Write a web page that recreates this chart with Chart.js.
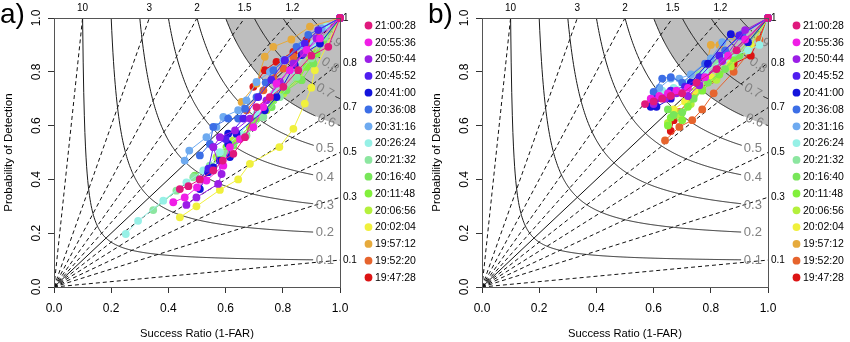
<!DOCTYPE html>
<html>
<head>
<meta charset="utf-8">
<script src="https://cdn.jsdelivr.net/npm/chart.js@4.4.1/dist/chart.umd.min.js"></script>
<style>
  body { margin: 0; background: #fff; width: 850px; height: 342px; overflow: hidden; position: relative; }
  .panel { position: absolute; top: 0; }
</style>
</head>
<body>
<div class="panel" style="left:0"><canvas id="chartA" width="422" height="342"></canvas></div>
<div class="panel" style="left:428px"><canvas id="chartB" width="422" height="342"></canvas></div>
<script>
// legend entries (forecast start times) and their colours
const times = ['21:00:28', '20:55:36', '20:50:44', '20:45:52', '20:41:00', '20:36:08', '20:31:16', '20:26:24',
               '20:21:32', '20:16:40', '20:11:48', '20:06:56', '20:02:04', '19:57:12', '19:52:20', '19:47:28'];
const colors = ['#e0197d', '#f01ee6', '#9b1ee6', '#501ef0', '#1414dc', '#3c6ee6', '#6eaaf0', '#96f0e6',
                '#8ce6a0', '#78e65a', '#82f03c', '#b4f03c', '#f0f03c', '#e6aa3c', '#e6642d', '#dc1414'];

// background of the performance diagram
const xTicks = [0, 0.2, 0.4, 0.6, 0.8, 1.0];
const csiLevels = [0.1, 0.2, 0.3, 0.4, 0.5, 0.6, 0.7, 0.8, 0.9];
const csiLabelSR = [0.947, 0.947, 0.947, 0.947, 0.947, 0.953, 0.947, 0.965, 0.976];
const shadeCSI = 0.6;
const biasLevels = [10, 3, 2, 1.5, 1.2, 1, 5 / 6, 2 / 3, 0.5, 1 / 3, 0.1];
const topBias = [10, 3, 2, 1.5, 1.2];
const topLabels = ['10', '3', '2', '1.5', '1.2'];
const rightBias = [1, 5 / 6, 2 / 3, 0.5, 1 / 3, 0.1];
const rightLabels = ['1', '0.8', '0.7', '0.5', '0.3', '0.1'];

// panel a) : [success ratio, POD]
const a_210028 = [[.44,.364],[.47,.375],[.51,.40],[.557,.433],[.59,.47],[.627,.495],[.668,.557],[.708,.669],[.755,.706],[.802,.744],[.854,.806],[.90,.86],[.959,.893],[1,1]];
const a_205536 = [[.417,.315],[.457,.333],[.50,.37],[.533,.396],[.592,.451],[.615,.52],[.65,.55],[.697,.594],[.732,.669],[.778,.756],[.825,.806],[.883,.881],[.93,.924],[1,1]];
const a_205044 = [[.463,.305],[.498,.333],[.574,.383],[.586,.42],[.557,.52],[.58,.557],[.633,.582],[.685,.626],[.743,.694],[.79,.762],[.837,.831],[.872,.868],[.918,.924],[1,1]];
const a_204552 = [[.51,.40],[.54,.44],[.557,.52],[.60,.55],[.662,.626],[.714,.706],[.76,.77],[.807,.843],[.877,.905],[.924,.955],[1,1]];
const a_204100 = [[.51,.364],[.539,.427],[.557,.445],[.58,.47],[.615,.483],[.609,.532],[.609,.57],[.638,.57],[.737,.657],[.778,.706],[.842,.825],[.866,.862],[.93,.905],[1,1]];
const a_203608 = [[.51,.489],[.545,.532],[.557,.595],[.609,.626],[.644,.626],[.668,.663],[.708,.706],[.74,.76],[.767,.806],[.807,.843],[.848,.893],[.889,.937],[1,1]];
const a_203116 = [[.457,.47],[.473,.507],[.533,.557],[.568,.595],[.592,.632],[.644,.657],[.673,.694],[.708,.762],[.755,.80],[.802,.843],[.866,.899],[.936,.961],[1,1]];
const a_202624 = [[.251,.197],[.294,.246],[.382,.321],[.463,.389],[.522,.433],[.58,.501],[.65,.57],[.708,.644],[.767,.719],[.837,.806],[.907,.905],[.953,.968],[1,1]];
const a_202132 = [[.347,.286],[.428,.358],[.487,.408],[.545,.451],[.603,.495],[.673,.563],[.732,.632],[.79,.706],[.848,.781],[.90,.85],[.947,.93],[1,1]];
const a_201640 = [[.492,.414],[.533,.433],[.58,.48],[.627,.526],[.697,.60],[.761,.669],[.813,.731],[.866,.769],[.907,.831],[.942,.918],[1,1]];
const a_201148 = [[.603,.52],[.65,.557],[.708,.626],[.767,.694],[.807,.731],[.854,.775],[.883,.818],[.918,.868],[1,1]];
const a_200656 = [[.568,.483],[.627,.545],[.685,.595],[.743,.657],[.802,.719],[.86,.775],[.895,.85],[.93,.924],[1,1]];
const a_200204 = [[.44,.259],[.498,.30],[.58,.361],[.644,.40],[.685,.458],[.788,.52],[.837,.588],[.877,.682],[.90,.741],[.912,.806],[1,1]];
const a_195712 = [[.656,.688],[.708,.756],[.737,.856],[.767,.893],[.83,.92],[.895,.968],[1,1]];
const a_195220 = [[.673,.657],[.732,.731],[.767,.781],[.802,.812],[.837,.856],[.883,.893],[.93,.943],[1,1]];
const a_194728 = [[.697,.744],[.737,.806],[.778,.837],[.837,.874],[.883,.918],[.93,.955],[1,1]];

// panel b)
const b_210028 = [[.57,.68],[.60,.69],[.63,.70],[.66,.71],[.70,.72],[.75,.76],[.82,.81],[.89,.88],[1,1]];
const b_205536 = [[.59,.70],[.62,.71],[.65,.72],[.68,.73],[.72,.74],[.78,.78],[.86,.86],[.92,.92],[1,1]];
const b_205044 = [[.60,.68],[.64,.70],[.68,.72],[.72,.71],[.76,.75],[.84,.84],[.92,.955],[1,1]];
const b_204552 = [[.61,.70],[.66,.73],[.71,.745],[.76,.78],[.83,.86],[.90,.935],[1,1]];
const b_204100 = [[.59,.67],[.61,.67],[.66,.70],[.73,.76],[.79,.83],[.87,.94],[.93,.91],[1,1]];
const b_203608 = [[.60,.725],[.63,.775],[.66,.78],[.70,.76],[.78,.83],[.85,.88],[.91,.94],[1,1]];
const b_203116 = [[.62,.74],[.66,.775],[.69,.775],[.73,.79],[.80,.85],[.84,.91],[.90,.93],[1,1]];
const b_202624 = [[.63,.73],[.67,.74],[.72,.76],[.78,.80],[.85,.85],[.93,.88],[.97,.90],[1,1]];
const b_202132 = [[.64,.72],[.67,.73],[.71,.75],[.76,.79],[.82,.83],[.88,.87],[1,1]];
const b_201640 = [[.65,.66],[.67,.64],[.70,.65],[.74,.70],[.79,.76],[.85,.81],[.90,.86],[1,1]];
const b_201148 = [[.65,.60],[.66,.63],[.70,.62],[.72,.67],[.77,.73],[.83,.79],[.88,.85],[1,1]];
const b_200656 = [[.65,.61],[.69,.64],[.73,.68],[.77,.735],[.82,.77],[.87,.82],[.93,.88],[1,1]];
const b_200204 = [[.67,.66],[.71,.69],[.75,.73],[.80,.78],[.87,.84],[.94,.90],[1,1]];
const b_195712 = [[.68,.65],[.72,.68],[.74,.71],[.78,.80],[.80,.90],[.83,.90],[.88,.93],[1,1]];
const b_195220 = [[.64,.545],[.69,.595],[.735,.62],[.77,.66],[.81,.72],[.88,.80],[.97,.92],[1,1]];
const b_194728 = [[.66,.58],[.67,.62],[.69,.65],[.73,.70],[.80,.77],[.88,.83],[.94,.86],[1,1]];

const seriesA = [a_210028, a_205536, a_205044, a_204552, a_204100, a_203608, a_203116, a_202624,
                 a_202132, a_201640, a_201148, a_200656, a_200204, a_195712, a_195220, a_194728];
const seriesB = [b_210028, b_205536, b_205044, b_204552, b_204100, b_203608, b_203116, b_202624,
                 b_202132, b_201640, b_201148, b_200656, b_200204, b_195712, b_195220, b_194728];

const FONT = "'Liberation Sans', Arial, Helvetica, sans-serif";
const csiPOD = (c, sr) => 1 / (1 / c + 1 - 1 / sr);

const perfPlugin = {
  id: 'perf',
  beforeDatasetsDraw(chart) {
    const { ctx, chartArea: a, scales: { x, y } } = chart;
    const px = v => x.getPixelForValue(v), py = v => y.getPixelForValue(v);
    ctx.save();
    ctx.beginPath();
    ctx.rect(a.left, a.top, a.right - a.left, a.bottom - a.top);
    ctx.clip();

    // shaded area (CSI above 0.6)
    ctx.beginPath();
    for (let s = shadeCSI; s <= 1.00001; s += 0.002) {
      const X = px(s), Y = py(csiPOD(shadeCSI, s));
      s === shadeCSI ? ctx.moveTo(X, Y) : ctx.lineTo(X, Y);
    }
    ctx.lineTo(px(1), py(1));
    ctx.closePath();
    ctx.fillStyle = '#bebebe';
    ctx.fill();

    // frequency bias lines
    ctx.strokeStyle = '#111';
    ctx.lineWidth = 1;
    biasLevels.forEach(b => {
      const end = b >= 1 ? [1 / b, 1] : [1, b];
      ctx.setLineDash(b === 1 ? [] : [4, 3]);
      ctx.beginPath();
      ctx.moveTo(px(0), py(0));
      ctx.lineTo(px(end[0]), py(end[1]));
      ctx.stroke();
    });
    ctx.setLineDash([]);

    // CSI curves, broken around their labels
    ctx.strokeStyle = '#1a1a1a';
    csiLevels.forEach((c, i) => {
      const lsr = csiLabelSR[i];
      const LX = px(lsr), LY = py(csiPOD(c, lsr));
      const resume = c >= 0.6;
      let drawing = false, stopped = false;
      ctx.beginPath();
      for (let s = c; s <= 1.00001; s += 0.002) {
        const X = px(s), Y = py(csiPOD(c, s));
        const near = Math.hypot(X - LX, Y - LY) < 11.5;
        if (near) { drawing = false; stopped = true; continue; }
        if (stopped && !resume) break;
        if (!drawing) { ctx.moveTo(X, Y); drawing = true; } else ctx.lineTo(X, Y);
      }
      ctx.stroke();
      // label
      const d = 0.004;
      const ang = c >= 0.6 ? Math.atan2(py(csiPOD(c, lsr + d)) - py(csiPOD(c, lsr - d)), px(lsr + d) - px(lsr - d)) : 0;
      ctx.save();
      ctx.translate(LX, LY);
      ctx.rotate(ang);
      ctx.fillStyle = '#808080';
      ctx.font = '13px ' + FONT;
      ctx.textAlign = 'center';
      ctx.textBaseline = 'middle';
      ctx.fillText(c.toFixed(1), 0, 0);
      ctx.restore();
    });
    ctx.restore();
  },
  afterDraw(chart) {
    const { ctx, chartArea: a, scales: { x, y } } = chart;
    const px = v => x.getPixelForValue(v), py = v => y.getPixelForValue(v);
    ctx.save();
    // box
    ctx.strokeStyle = '#555';
    ctx.lineWidth = 1;
    ctx.strokeRect(a.left + 0.5, a.top + 0.5, a.right - a.left, a.bottom - a.top);

    ctx.fillStyle = '#000';
    // bias labels
    ctx.font = '10px ' + FONT;
    ctx.textAlign = 'center';
    ctx.textBaseline = 'middle';
    topBias.forEach((b, i) => ctx.fillText(topLabels[i], px(1 / b), 8));
    ctx.textAlign = 'left';
    rightBias.forEach((b, i) => ctx.fillText(rightLabels[i], a.right + 3, py(b)));

    // rotated y tick labels (R style)
    ctx.font = '12px ' + FONT;
    ctx.textAlign = 'center';
    y.ticks.forEach(t => {
      ctx.save();
      ctx.translate(37, py(t.value));
      ctx.rotate(-Math.PI / 2);
      ctx.fillText(t.value.toFixed(1), 0, 0);
      ctx.restore();
    });

    // legend
    ctx.font = '10.5px ' + FONT;
    ctx.textAlign = 'left';
    chart.data.datasets.forEach((ds, i) => {
      const yy = 25.5 + i * 16.8;
      ctx.beginPath();
      ctx.arc(368.5, yy, 3.9, 0, Math.PI * 2);
      ctx.fillStyle = ds.borderColor;
      ctx.fill();
      ctx.fillStyle = '#000';
      ctx.fillText(ds.label, 375, yy + 0.5);
    });

    // panel tag
    ctx.font = '28px ' + FONT;
    ctx.textBaseline = 'alphabetic';
    ctx.fillText(chart.options.plugins.perf.tag, 0, 23);
    ctx.restore();
  }
};

function makeChart(id, series, tag) {
  return new Chart(document.getElementById(id), {
    type: 'line',
    data: {
      datasets: series.map((pts, i) => ({
        label: times[i],
        data: pts.map(p => ({ x: p[0], y: p[1] })),
        borderColor: colors[i],
        backgroundColor: colors[i],
        pointBackgroundColor: colors[i],
        pointBorderWidth: 0,
        pointRadius: 3.9,
        pointHoverRadius: 3.9,
        borderWidth: 1,
        tension: 0,
        clip: false
      }))
    },
    options: {
      responsive: false,
      animation: false,
      devicePixelRatio: 1,
      events: [],
      layout: { padding: { top: 18, right: 82, left: 0, bottom: 0 } },
      plugins: { legend: { display: false }, tooltip: { enabled: false }, perf: { tag } },
      scales: {
        x: {
          type: 'linear', min: 0, max: 1,
          afterFit(s) { s.height = 55; },
          afterBuildTicks(s) { s.ticks = xTicks.map(v => ({ value: v })); },
          ticks: { callback: v => v.toFixed(1), color: '#000', padding: 8, maxRotation: 0, font: { family: FONT, size: 12 } },
          grid: { drawOnChartArea: false, tickLength: 6, color: '#333' },
          border: { color: '#333' },
          title: { display: true, text: 'Success Ratio (1-FAR)', color: '#000', padding: { top: 0, bottom: 1.5 }, font: { family: FONT, size: 11.2 } }
        },
        y: {
          type: 'linear', min: 0, max: 1,
          afterFit(s) { s.width = 54; },
          afterBuildTicks(s) { s.ticks = xTicks.map(v => ({ value: v })); },
          ticks: { display: false },
          grid: { drawOnChartArea: false, tickLength: 6, color: '#333' },
          border: { color: '#333' },
          title: { display: true, text: 'Probability of Detection', color: '#000', padding: { top: 2.4, bottom: 0 }, font: { family: FONT, size: 11.5 } }
        }
      }
    },
    plugins: [perfPlugin]
  });
}

makeChart('chartA', seriesA, 'a)');
makeChart('chartB', seriesB, 'b)');
</script>
</body>
</html>
